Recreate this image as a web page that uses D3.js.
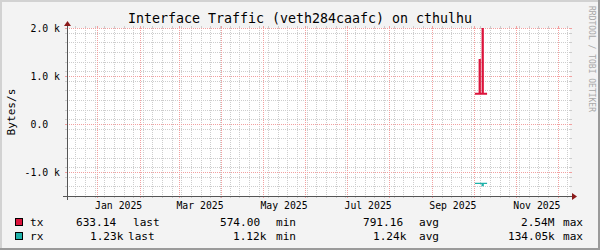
<!DOCTYPE html>
<html><head><meta charset="utf-8">
<script src="https://cdn.jsdelivr.net/npm/d3@7"></script>
<style>
body{margin:0;background:#F3F3F3}
svg{display:block}
text{font-family:"DejaVu Sans Mono",monospace;white-space:pre}
</style>
</head><body>
<svg id="c" width="600" height="250" xml:space="preserve"></svg>
<script>
// ---------- data ----------
const title = "Interface Traffic (veth284caafc) on cthulhu";
const yTitle = "Bytes/s";
const watermark = "RRDTOOL / TOBI OETIKER";
const timeRange = ["2024-12-10T00:00", "2025-12-10T00:00"];
const yDomain = [-1500, 2000];
const yMajorTicks = [2000, 1000, 0, -1000];
const yTickLabels = ["2.0 k", "1.0 k", "0.0  ", "-1.0 k"];
const yMinorStep = 200;
const xLabelMonths = ["2025-01", "2025-03", "2025-05", "2025-07", "2025-09", "2025-11"];
const xLabels = ["Jan 2025", "Mar 2025", "May 2025", "Jul 2025", "Sep 2025", "Nov 2025"];
// tx (out) series, plotted upward
const txTimes = ["2025-10-02T00:00", "2025-10-05T08:00", "2025-10-05T16:00", "2025-10-07T12:00", "2025-10-07T20:00", "2025-10-10T20:00"];
const txValues = [630, 1333, 630, 2540000, 630, 630];
// rx (in) series, plotted downward (negated)
const rxTimes = ["2025-10-02T00:00", "2025-10-07T06:00", "2025-10-08T00:00", "2025-10-10T20:00"];
const rxValues = [1235, 1285, 1235, 1235];
const seriesNames = ["tx", "rx"];
const seriesColors = ["#DC143C", "#20B2AA"];
const statNames = ["last", "min", "avg", "max"];
const txStats = ["633.14", "574.00", "791.16", "2.54M"];
const rxStats = ["1.23k", "1.12k", "1.24k", "134.05k"];

// ---------- layout ----------
const X0 = 67, X1 = 570, YT = 28, YB = 196;
const parse = d3.timeParse("%Y-%m-%dT%H:%M");
const t0 = parse(timeRange[0]), t1 = parse(timeRange[1]);
const x = d3.scaleTime().domain([t0, t1]).range([X0, X1]);
const y = d3.scaleLinear().domain(yDomain).range([YB, YT]);
const svg = d3.select("#c");
const px = v => Math.round(v) + 0.5;

// background + 3D frame
svg.append("rect").attr("width", 600).attr("height", 250).attr("fill", "#F3F3F3");
svg.append("rect").attr("x", 0).attr("y", 0).attr("width", 600).attr("height", 2).attr("fill", "#D2D2D2");
svg.append("rect").attr("x", 0).attr("y", 0).attr("width", 2).attr("height", 250).attr("fill", "#D2D2D2");
svg.append("rect").attr("x", 0).attr("y", 248).attr("width", 600).attr("height", 2).attr("fill", "#9A9A9A");
svg.append("rect").attr("x", 598).attr("y", 0).attr("width", 2).attr("height", 250).attr("fill", "#9A9A9A");

// canvas
svg.append("rect").attr("x", X0).attr("y", YT).attr("width", X1 - X0).attr("height", YB - YT).attr("fill", "#FFFFFF");

const gridMinor = "#CDCDCD", gridMajor = "#F2A0A0";

const yMinor = d3.range(yDomain[0] + yMinorStep, yDomain[1] + 1, yMinorStep).filter(v => !yMajorTicks.includes(v));
function hLine(v, col) {
  const yy = px(y(v));
  svg.append("line").attr("x1", X0 - 2).attr("x2", X0).attr("y1", yy).attr("y2", yy).attr("stroke", col);
  svg.append("line").attr("x1", X1).attr("x2", X1 + 2).attr("y1", yy).attr("y2", yy).attr("stroke", col);
  svg.append("line").attr("x1", X0).attr("x2", X1).attr("y1", yy).attr("y2", yy).attr("stroke", col).attr("stroke-dasharray", "1,1");
}
function vLine(t, col) {
  const xx = px(x(t));
  svg.append("line").attr("x1", xx).attr("x2", xx).attr("y1", YT - 2).attr("y2", YT).attr("stroke", col);
  svg.append("line").attr("x1", xx).attr("x2", xx).attr("y1", YB).attr("y2", YB + 2).attr("stroke", col);
  svg.append("line").attr("x1", xx).attr("x2", xx).attr("y1", YT).attr("y2", YB).attr("stroke", col).attr("stroke-dasharray", "1,1");
}
yMinor.forEach(v => hLine(v, gridMinor));
const months = d3.timeMonth.range(d3.timeDay.offset(t0, 1), t1);
const monthKeys = months.map(m => +m);
d3.timeMonday.range(d3.timeDay.offset(t0, 1), t1).filter(d => !monthKeys.includes(+d)).forEach(d => vLine(d, gridMinor));
yMajorTicks.forEach(v => hLine(v, gridMajor));
months.forEach(m => vLine(m, gridMajor));

// data
svg.append("clipPath").attr("id", "clip").append("rect")
  .attr("x", X0).attr("y", YT).attr("width", X1 - X0).attr("height", YB - YT);
const line = d3.line().x(d => x(d[0])).y(d => y(d[1])).curve(d3.curveStepAfter);
const txData = txTimes.map((t, i) => [parse(t), txValues[i]]);
const rxData = rxTimes.map((t, i) => [parse(t), -rxValues[i]]);
svg.append("path").attr("d", line(rxData)).attr("fill", "none").attr("stroke", seriesColors[1])
  .attr("stroke-width", 1.3).attr("clip-path", "url(#clip)");
svg.append("path").attr("d", line(txData)).attr("fill", "none").attr("stroke", seriesColors[0])
  .attr("stroke-width", 1.8).attr("clip-path", "url(#clip)");

// axes
const axisCol = "#555555", arrowCol = "#8B1A1A";
svg.append("line").attr("x1", X0 - 4).attr("x2", X1 + 3).attr("y1", YB + 0.5).attr("y2", YB + 0.5).attr("stroke", axisCol);
svg.append("line").attr("x1", X0 + 0.5).attr("x2", X0 + 0.5).attr("y1", YB + 4).attr("y2", YT - 3).attr("stroke", axisCol);
svg.append("path").attr("d", `M${X1 + 2},${YB - 3}L${X1 + 7},${YB + 0.5}L${X1 + 2},${YB + 4}Z`).attr("fill", arrowCol);
svg.append("path").attr("d", `M${X0 - 3},${YT - 2}L${X0 + 0.5},${YT - 7}L${X0 + 4},${YT - 2}Z`).attr("fill", arrowCol);

yMajorTicks.forEach((v, i) => {
  svg.append("text").attr("x", 60).attr("y", y(v) + 3.6).attr("text-anchor", "end")
    .attr("font-size", 9.8).attr("fill", "#000").text(yTickLabels[i]);
});
xLabelMonths.forEach((m, i) => {
  const a = d3.timeParse("%Y-%m")(m), b = d3.timeMonth.offset(a, 1);
  svg.append("text").attr("x", (x(a) + x(b)) / 2).attr("y", 209).attr("text-anchor", "middle")
    .attr("font-size", 9.8).attr("fill", "#000").text(xLabels[i]);
});

svg.append("text").attr("x", 300).attr("y", 23).attr("text-anchor", "middle").attr("font-size", 13.3).text(title);
svg.append("text").attr("transform", "translate(15,112) rotate(-90)").attr("text-anchor", "middle")
  .attr("font-size", 11.1).text(yTitle);
svg.append("text").attr("transform", "translate(589,59) rotate(90)").attr("text-anchor", "middle")
  .attr("font-size", 8).attr("fill", "#A8A8A8").text(watermark);

const legendRows = [
  {name: seriesNames[0], color: seriesColors[0], stats: txStats, y: 226, vx: [76, 220, 363, 521], lx: [133, 276, 419, 563]},
  {name: seriesNames[1], color: seriesColors[1], stats: rxStats, y: 240, vx: [90, 233, 373, 508], lx: [128, 276, 419, 563]}
];
legendRows.forEach(r => {
  svg.append("rect").attr("x", 15.5).attr("y", r.y - 7.5).attr("width", 7).attr("height", 7)
    .attr("fill", r.color).attr("stroke", "#000");
  svg.append("text").attr("x", 30).attr("y", r.y).attr("font-size", 11.1).text(r.name);
  r.stats.forEach((s, i) => {
    svg.append("text").attr("x", r.vx[i]).attr("y", r.y).attr("font-size", 11.1).text(s);
    svg.append("text").attr("x", r.lx[i]).attr("y", r.y).attr("font-size", 11.1).text(statNames[i]);
  });
});
</script>
</body></html>
